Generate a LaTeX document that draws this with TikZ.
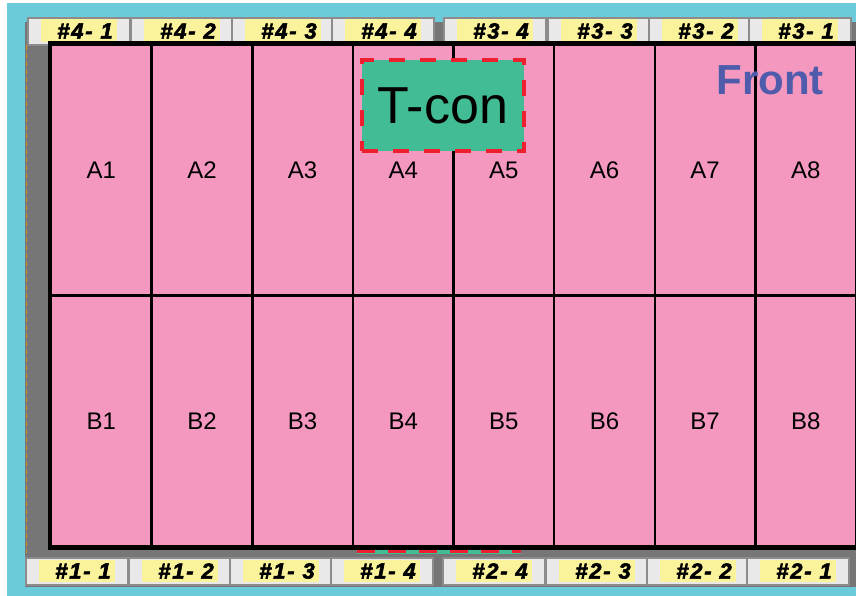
\documentclass[tikz,border=0pt]{standalone}
\usepackage{fontspec}
\setmainfont{Liberation Sans}
\newfontfamily\tabfont{Liberation Sans Bold Italic}[LetterSpace=8,FakeBold=2.5]
\usetikzlibrary{calc}
\definecolor{bgcyan}{HTML}{6CCBDB}
\definecolor{panelgray}{HTML}{767676}
\definecolor{tabfill}{HTML}{E9E9E9}
\definecolor{tabline}{HTML}{8C8C8C}
\definecolor{hlyellow}{HTML}{FAF39C}
\definecolor{cellpink}{HTML}{F498BF}
\definecolor{tcongreen}{HTML}{42BC94}
\definecolor{tconred}{HTML}{EE2030}
\definecolor{frontblue}{HTML}{4E5CAB}
\definecolor{edgeorange}{HTML}{D08A2A}
\begin{document}
\begin{tikzpicture}[x=1pt,y=-1pt,
  tabbox/.style={draw=tabline, line width=2pt, fill=tabfill, minimum width=101.5pt, minimum height=27pt, inner sep=0pt, anchor=north west},
  tabtext/.style={font=\tabfont\fontsize{22}{22}\selectfont, inner sep=0pt},
  cell/.style={draw=black, line width=2.5pt, fill=cellpink, minimum width=100.625pt, minimum height=251pt, inner sep=0pt, font=\fontsize{24}{24}\selectfont},
  tcon/.style={fill=tcongreen, draw=tconred, line width=4pt, dash pattern=on 16pt off 15pt, inner sep=0pt, font=\fontsize{52}{52}\selectfont},
  front/.style={text=frontblue, font=\bfseries\fontsize{42}{42}\selectfont, inner sep=0pt}
]
\useasboundingbox (0,0) rectangle (856,596);
\fill[bgcyan] (7,3) rectangle (856,596);
\fill[panelgray] (25,22) rectangle (856,587);
\draw[edgeorange, line width=1pt, dash pattern=on 5pt off 3pt] (26,45) -- (26,553);

% tabs
\foreach \name/\lab/\l/\t in {t41/{4- 1}/27/17, t42/{4- 2}/130/17, t43/{4- 3}/231/17, t44/{4- 4}/331/17,
  t34/{3- 4}/443/17, t33/{3- 3}/547/17, t32/{3- 2}/648/17, t31/{3- 1}/748/17,
  t11/{1- 1}/25/557, t12/{1- 2}/128/557, t13/{1- 3}/229/557, t14/{1- 4}/330/557,
  t24/{2- 4}/442/557, t23/{2- 3}/545/557, t22/{2- 2}/646/557, t21/{2- 1}/746/557}
{
  \node[tabbox] (\name) at (\l,\t) {};
  \fill[hlyellow] (\l+14,\t+2.5) rectangle (\l+90,\t+25);
  \node[tabtext] (\name-txt) at (\l+58,\t+14) {\#\lab};
}

% hidden lower T-con edge (green strip with dashed red edge)
\node[fill=tcongreen, minimum width=164pt, minimum height=10pt, inner sep=0pt] (tconlow) at (439,548.5) {};
\draw[tconred, line width=4pt, dash pattern=on 18pt off 13pt] (tconlow.west |- 0,551) -- (tconlow.east |- 0,551);

% cells
\foreach \i in {1,...,8} {
  \pgfmathsetmacro\cx{51+(\i-1)*100.625+50.3125}
  \node[cell] (A\i) at (\cx,170) {A\i};
  \node[cell] (B\i) at (\cx,421) {B\i};
}
\draw[line width=3.5pt] (A1.north west) rectangle (B8.south east);

\node[tcon, minimum width=162pt, minimum height=91pt] (tcon) at (443,105.5) {T-con};
\node[front] (front) at (770,80) {Front};
\end{tikzpicture}
\end{document}
